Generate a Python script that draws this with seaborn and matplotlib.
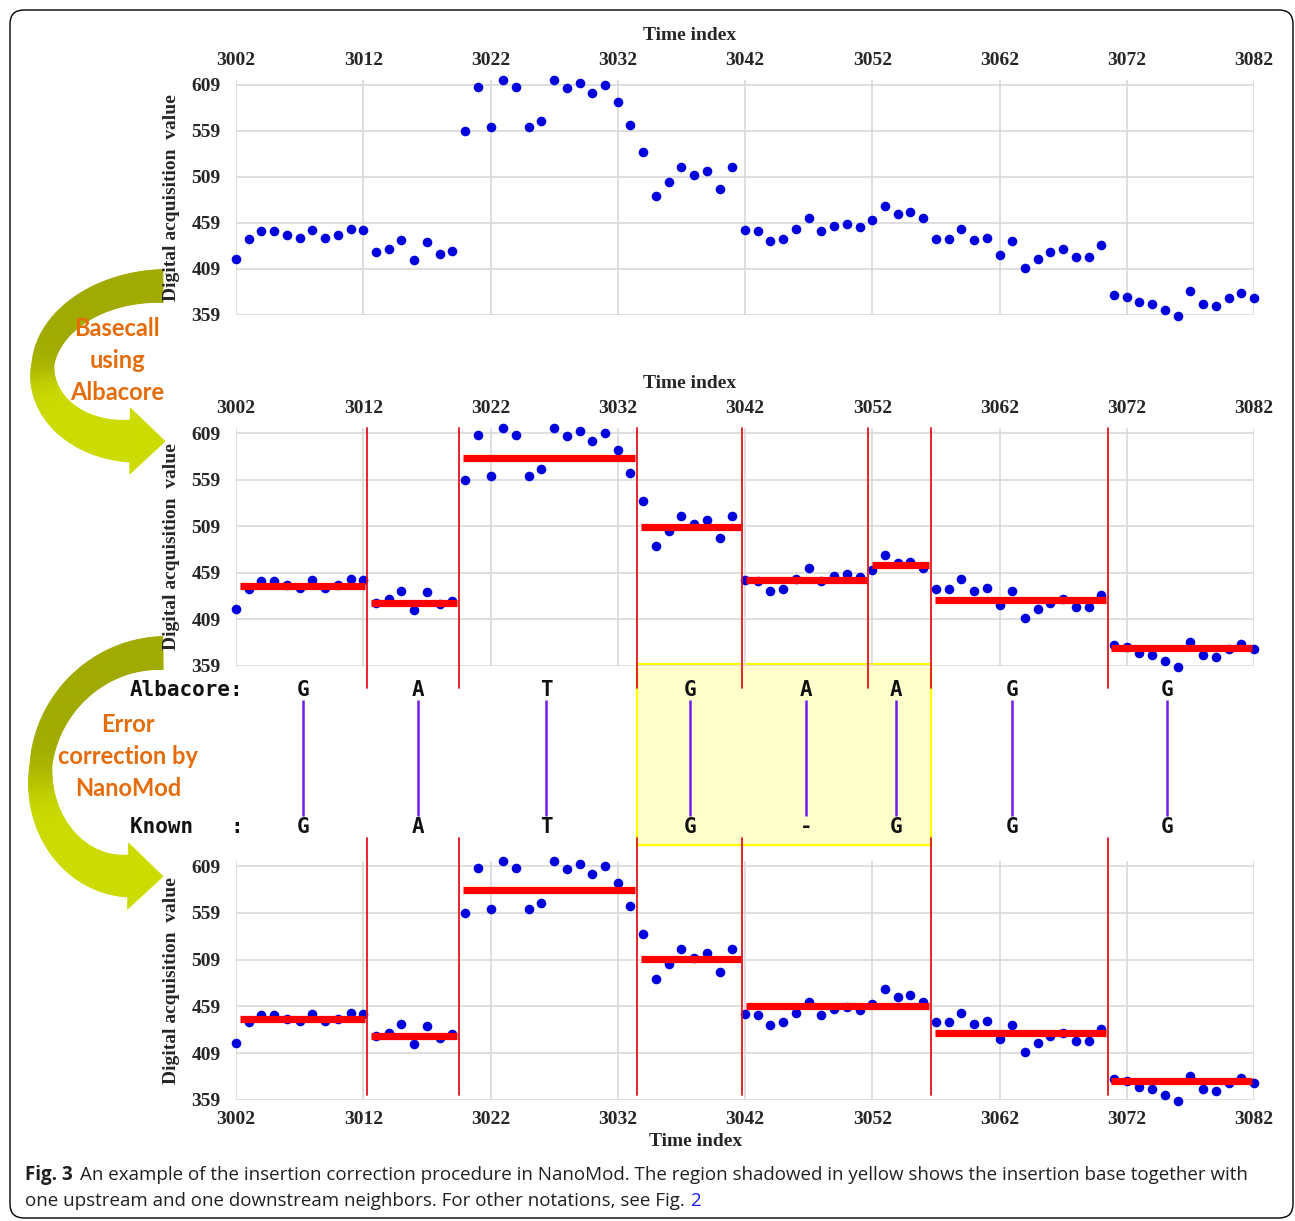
import numpy as np
import pandas as pd
import matplotlib
matplotlib.use("Agg")
import matplotlib.pyplot as plt
import seaborn as sns
from matplotlib.patches import Polygon, FancyBboxPatch
from matplotlib.colors import to_rgb

# raw signal, one value per time index
time_index = list(range(3002, 3083))
signal = [420, 442, 450, 450, 446, 443, 451, 443, 446, 452,
          451, 427, 431, 440, 419, 438, 425, 429, 559, 607,
          563, 614, 607, 563, 570, 614, 606, 611, 600, 609,
          591, 566, 536, 488, 504, 520, 511, 516, 496, 520,
          451, 450, 439, 442, 452, 464, 450, 456, 458, 455,
          462, 478, 469, 471, 464, 442, 442, 452, 440, 443,
          424, 439, 410, 420, 427, 431, 422, 422, 435, 381,
          379, 373, 371, 364, 358, 385, 371, 369, 377, 383, 377]

# event segmentation (Albacore) and after correction (NanoMod)
albacore_bounds = [3002, 3012.3, 3019.5, 3033.5, 3041.8, 3051.7, 3056.6, 3070.5, 3082]
albacore_means = [444.6, 426.9, 581.9, 508.3, 451.4, 467.5, 430.0, 378.6]
nanomod_bounds = [3002, 3012.3, 3019.5, 3033.5, 3041.8, 3056.6, 3070.5, 3082]
nanomod_means = [445.5, 427.5, 583.0, 509.5, 459.0, 431.0, 379.5]

# alignment columns
base_x = [3007.3, 3016.3, 3026.4, 3037.7, 3046.8, 3053.9, 3063.0, 3075.2]
albacore_bases = ["G", "A", "T", "G", "A", "A", "G", "G"]
known_bases = ["G", "A", "T", "G", "-", "G", "G", "G"]

x_ticks = [3002, 3012, 3022, 3032, 3042, 3052, 3062, 3072, 3082]
y_ticks = [359, 409, 459, 509, 559, 609]

df = pd.DataFrame({"Time index": time_index, "value": signal})

sns.set_style("white")
plt.rcParams["font.family"] = ["Liberation Serif", "DejaVu Serif"]
plt.rcParams["font.weight"] = "bold"

W, H = 1295, 1221
fig = plt.figure(figsize=(W / 100, H / 100), dpi=100)


def rect(top, bottom, left=236, right=1254):
    return [left / W, 1 - bottom / H, (right - left) / W, (bottom - top) / H]


# background layer in pixel coordinates
bg = fig.add_axes([0, 0, 1, 1], zorder=0)
bg.set_xlim(0, W)
bg.set_ylim(H, 0)
bg.axis("off")
bg.add_patch(FancyBboxPatch((10, 10), 1283, 1208, boxstyle="round,pad=0,rounding_size=14",
                            fill=False, ec="black", lw=1.0))


def ribbon_arrow(ax, tail, head, left_x, widths, head_w, head_len,
                 dark="#a0aa00", bright="#ccdc00"):
    n = 160
    phi = np.linspace(0, np.pi, n)
    cx = tail[0] + (head[0] - tail[0]) * phi / np.pi
    cy = (tail[1] + head[1]) / 2
    ry = (head[1] - tail[1]) / 2
    rx = (tail[0] + head[0]) / 2 - (left_x + widths[1] / 2)
    x = cx - rx * np.sin(phi)
    y = cy - ry * np.cos(phi)
    w = np.interp(phi, [0, np.pi / 2, np.pi], widths)
    dx, dy = np.gradient(x), np.gradient(y)
    L = np.hypot(dx, dy)
    nx, ny = -dy / L, dx / L
    ox, oy = x + nx * w / 2, y + ny * w / 2
    ix, iy = x - nx * w / 2, y - ny * w / 2
    c0, c1 = np.array(to_rgb(dark)), np.array(to_rgb(bright))
    t = 1 / (1 + np.exp(-(phi - 0.55 * np.pi) / 0.12))
    for i in range(n - 1):
        col = c0 + (c1 - c0) * t[i]
        ax.add_patch(Polygon([(ox[i], oy[i]), (ox[i + 1], oy[i + 1]),
                              (ix[i + 1], iy[i + 1]), (ix[i], iy[i])],
                             closed=True, fc=col, ec=col, lw=0.6))
    tx, ty = dx[-1] / L[-1], dy[-1] / L[-1]
    bx, by = x[-1], y[-1]
    ax.add_patch(Polygon([(bx + nx[-1] * head_w / 2, by + ny[-1] * head_w / 2),
                          (bx + tx * head_len, by + ty * head_len),
                          (bx - nx[-1] * head_w / 2, by - ny[-1] * head_w / 2)],
                         closed=True, fc=bright, ec=bright, lw=0.6))


ribbon_arrow(bg, (163, 286), (130, 441), 32, [33, 22, 42], 66, 35)
ribbon_arrow(bg, (163, 653), (128, 876), 30, [33, 22, 42], 66, 35)

orange = dict(color="#e46c0a", family="Lato", weight="bold", size=17, ha="center", va="center")
for txt, yy in zip(["Basecall", "using", "Albacore"], [328, 360, 392]):
    bg.text(117, yy, txt, **orange)
for txt, yy in zip(["Error", "correction by", "NanoMod"], [724, 756, 788]):
    bg.text(128, yy, txt, **orange)

# caption
cap = dict(family="Open Sans", size=13.5, color="#231f20", va="center")
renderer = fig.canvas.get_renderer()
t1 = bg.text(25, 1175, "Fig. 3", weight="bold", **cap)
x1 = t1.get_window_extent(renderer).x1
bg.text(x1 + 7, 1175, "An example of the insertion correction procedure in NanoMod. The region "
        "shadowed in yellow shows the insertion base together with", weight="normal", **cap)
t2 = bg.text(25, 1201, "one upstream and one downstream neighbors. For other notations, see Fig.",
             weight="normal", **cap)
x2 = t2.get_window_extent(renderer).x1
bg.text(x2 + 5, 1201, "2", weight="normal", **dict(cap, color="#1a1aff"))

tick_font = dict(family="Liberation Serif", weight="bold", size=14)


def panel(top, bottom, top_axis, bounds=None, means=None, red_span=(0, 1)):
    ax = fig.add_axes(rect(top, bottom), zorder=3)
    ax.set_facecolor("none")
    sns.scatterplot(data=df, x="Time index", y="value", ax=ax, color="#0000dd",
                    s=48, linewidth=0, clip_on=False, zorder=4)
    ax.set_xlim(3002, 3082)
    ax.set_ylim(359, 614.4)
    ax.set_xticks(x_ticks)
    ax.set_yticks(y_ticks)
    ax.set_xticklabels([str(v) for v in x_ticks], **tick_font)
    ax.set_yticklabels([str(v) for v in y_ticks], **tick_font)
    ax.grid(True, color="#d9d9d9", lw=1.2)
    ax.set_axisbelow(True)
    for s in ax.spines.values():
        s.set_visible(False)
    ax.tick_params(length=0)
    ax.tick_params(axis="x", pad=8)
    ax.tick_params(axis="y", pad=11)
    ax.set_xlabel("")
    ax.set_ylabel("")
    if top_axis:
        ax.xaxis.tick_top()
        ax.text(0.446, 1 + 44 / (bottom - top), "Time index", transform=ax.transAxes,
                ha="center", va="center", **tick_font)
    else:
        ax.text(0.451, -42 / (bottom - top), "Time index", transform=ax.transAxes,
                ha="center", va="center", **tick_font)
    ax.text(-64 / 1018, 0.5, "Digital acquisition  value", transform=ax.transAxes,
            rotation=90, ha="center", va="center", **tick_font)
    if bounds is not None:
        for b in bounds[1:-1]:
            ax.axvline(b, ymin=red_span[0], ymax=red_span[1], color="#e3141c",
                       lw=1.3, clip_on=False, zorder=5)
        ax.hlines(means, np.array(bounds[:-1]) + 0.3, np.array(bounds[1:]) - 0.15,
                  color="#ff0000", lw=5.2, zorder=6)
    return ax


panel(80, 315, True)
panel(428, 666, True, albacore_bounds, albacore_means, (-22 / 238, 1))
panel(861, 1100, False, nanomod_bounds, nanomod_means, (5 / 239, 1 + 23 / 239))

# alignment between the two segmentations
mid = fig.add_axes(rect(664, 845), zorder=1)
mid.set_xlim(3002, 3082)
mid.set_ylim(0, 1)
mid.axis("off")
mid.axvspan(albacore_bounds[3], albacore_bounds[6], facecolor="#ffffcc",
            edgecolor="#ffff00", lw=1.6, clip_on=False, zorder=1)
mono = dict(family="DejaVu Sans Mono", weight="bold", size=15, va="center", color="#111111")
mid.text(-106 / 1018, 0.856, "Albacore:", transform=mid.transAxes, ha="left", **mono)
mid.text(-106 / 1018, 0.099, "Known   :", transform=mid.transAxes, ha="left", **mono)
mid.vlines(base_x, 0.16, 0.80, color="#6f1cf0", lw=1.8, zorder=2)
for bx, a, k in zip(base_x, albacore_bases, known_bases):
    mid.text(bx, 0.856, a, ha="center", zorder=3, **mono)
    mid.text(bx, 0.099, k, ha="center", zorder=3, **mono)

fig.savefig("out.png", dpi=100)
